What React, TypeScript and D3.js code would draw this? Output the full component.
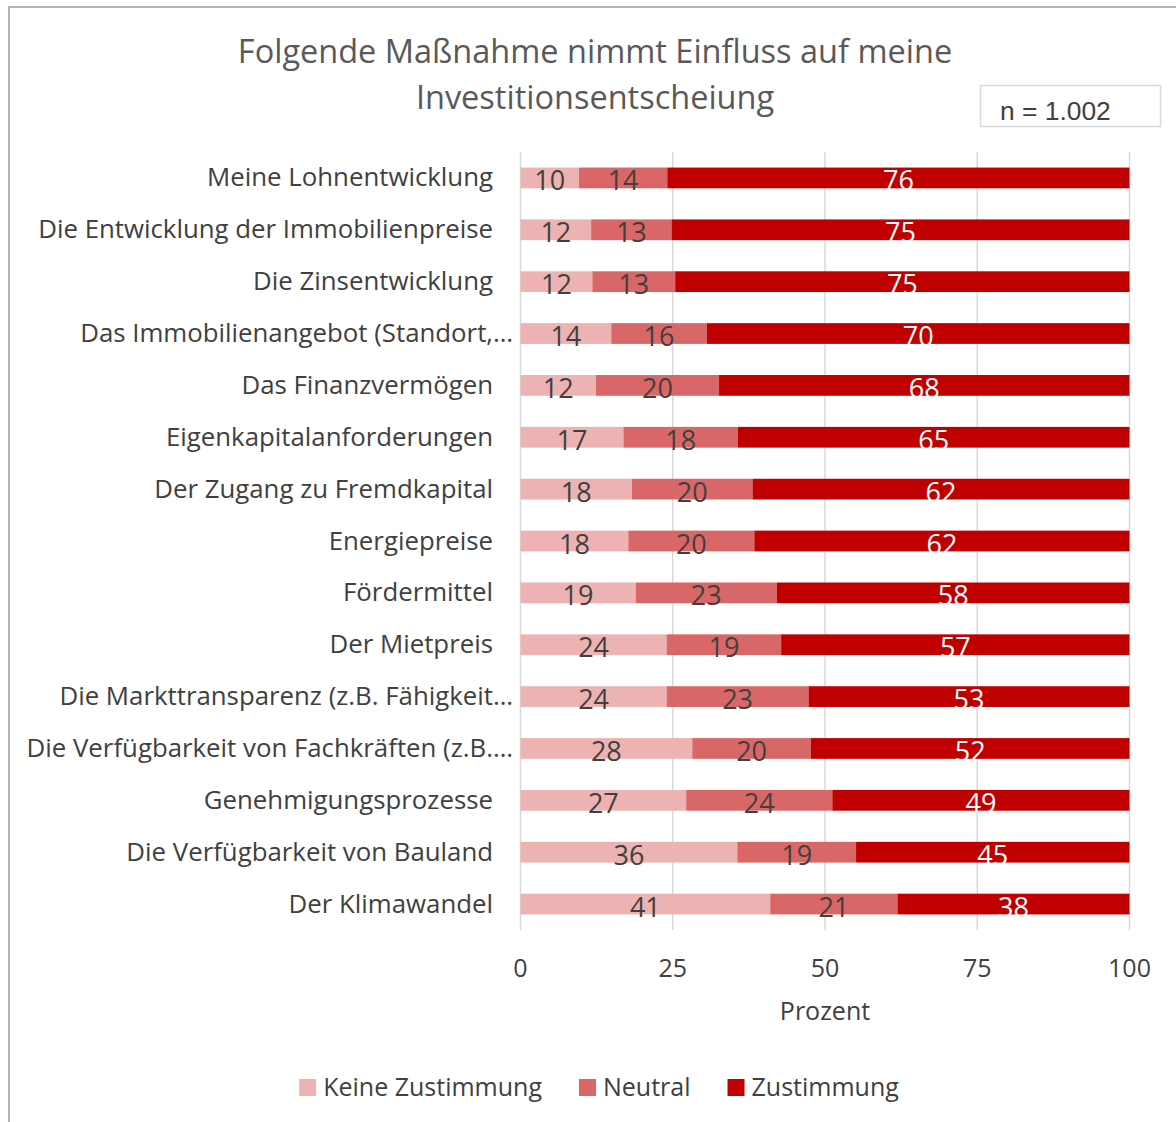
import React, { useEffect, useRef } from 'react';
import * as d3 from 'd3';

// Daten
const categories = [
    "Meine Lohnentwicklung",
    "Die Entwicklung der Immobilienpreise",
    "Die Zinsentwicklung",
    "Das Immobilienangebot (Standort,…",
    "Das Finanzvermögen",
    "Eigenkapitalanforderungen",
    "Der Zugang zu Fremdkapital",
    "Energiepreise",
    "Fördermittel",
    "Der Mietpreis",
    "Die Markttransparenz (z.B. Fähigkeit…",
    "Die Verfügbarkeit von Fachkräften (z.B.…",
    "Genehmigungsprozesse",
    "Die Verfügbarkeit von Bauland",
    "Der Klimawandel"
];

// bar lengths in percent
const keineZustimmung = [9.6, 11.6, 11.8, 14.9, 12.4, 16.9, 18.3, 17.7, 18.9, 24.0, 24.0, 28.2, 27.2, 35.6, 41.0];
const neutral = [14.5, 13.2, 13.6, 15.7, 20.2, 18.8, 19.8, 20.7, 23.2, 18.8, 23.3, 19.5, 24.0, 19.5, 20.9];
const zustimmung = [75.9, 75.2, 74.6, 69.4, 67.4, 64.3, 61.9, 61.6, 57.9, 57.2, 52.7, 52.3, 48.8, 44.9, 38.1];

// data labels as printed on the bars
const keineLabels = [10, 12, 12, 14, 12, 17, 18, 18, 19, 24, 24, 28, 27, 36, 41];
const neutralLabels = [14, 13, 13, 16, 20, 18, 20, 20, 23, 19, 23, 20, 24, 19, 21];
const zustimmungLabels = [76, 75, 75, 70, 68, 65, 62, 62, 58, 57, 53, 52, 49, 45, 38];

const seriesNames = ["Keine Zustimmung", "Neutral", "Zustimmung"];
const seriesColors = ["#edb3b3", "#d96767", "#c00000"];
const labelColors = ["#404040", "#404040", "#ffffff"];
const xTicks = [0, 25, 50, 75, 100];

const titleLines = ["Folgende Maßnahme nimmt Einfluss auf meine", "Investitionsentscheiung"];
const nText = "n = 1.002";

const App = () => {
    const ref = useRef(null);

    useEffect(() => {
        const svg = d3.select(ref.current);
        svg.selectAll("*").remove();

        const width = 1176;
        const height = 1122;
        const marginLeft = 520.5;
        const marginRight = 46.5;
        const plotTop = 152;
        const plotBottom = 930;
        const font = "'Open Sans', sans-serif";

        const rows = categories.map((c, i) => ({
            category: c,
            "Keine Zustimmung": keineZustimmung[i],
            "Neutral": neutral[i],
            "Zustimmung": zustimmung[i],
            labels: [keineLabels[i], neutralLabels[i], zustimmungLabels[i]]
        }));

        const stacked = d3.stack().keys(seriesNames)(rows);

        const x = d3.scaleLinear()
            .domain([0, 100])
            .range([marginLeft, width - marginRight]);

        const y = d3.scaleBand()
            .domain(categories)
            .range([plotTop, plotBottom])
            .paddingInner(0.6)
            .paddingOuter(0.3);

        svg.attr("viewBox", [0, 0, width, height])
            .style("font-family", font);

        // background + chart border
        svg.append("rect")
            .attr("x", 0).attr("y", 0)
            .attr("width", width).attr("height", height)
            .attr("fill", "#ffffff");
        svg.append("rect")
            .attr("x", 9).attr("y", 7)
            .attr("width", width + 20).attr("height", height + 20)
            .attr("fill", "none")
            .attr("stroke", "#b4b4b4")
            .attr("stroke-width", 2);

        // title
        svg.append("text")
            .attr("x", 595)
            .attr("text-anchor", "middle")
            .attr("fill", "#595959")
            .style("font-size", "32.5px")
            .selectAll("tspan")
            .data(titleLines)
            .join("tspan")
            .attr("x", 595)
            .attr("y", (d, i) => 63 + i * 46)
            .text(d => d);

        // n box
        svg.append("rect")
            .attr("x", 980.5).attr("y", 85.5)
            .attr("width", 180).attr("height", 41)
            .attr("fill", "#ffffff")
            .attr("stroke", "#d9d9d9")
            .attr("stroke-width", 1.5);
        svg.append("text")
            .attr("x", 1000)
            .attr("y", 120)
            .attr("fill", "#404040")
            .style("font-family", "'Liberation Sans', Arial, sans-serif")
            .style("font-size", "26.4px")
            .text(nText);

        // vertical grid lines
        svg.append("g")
            .selectAll("line")
            .data(xTicks)
            .join("line")
            .attr("x1", d => x(d))
            .attr("x2", d => x(d))
            .attr("y1", plotTop)
            .attr("y2", plotBottom)
            .attr("stroke", "#d9d9d9")
            .attr("stroke-width", 1.5);

        // bars
        const layer = svg.append("g")
            .selectAll("g")
            .data(stacked)
            .join("g")
            .attr("fill", (d, i) => seriesColors[i]);

        layer.selectAll("rect")
            .data(d => d)
            .join("rect")
            .attr("x", d => x(d[0]))
            .attr("y", d => y(d.data.category))
            .attr("width", d => x(d[1]) - x(d[0]))
            .attr("height", y.bandwidth());

        // data labels
        stacked.forEach((s, si) => {
            svg.append("g")
                .selectAll("text")
                .data(s)
                .join("text")
                .attr("x", d => (x(d[0]) + x(d[1])) / 2)
                .attr("y", d => y(d.data.category) + y.bandwidth() / 2 + 12.5)
                .attr("text-anchor", "middle")
                .attr("fill", labelColors[si])
                .style("font-size", "27px")
                .text(d => d.data.labels[si]);
        });

        // category labels, truncated ones carry the ellipsis past the axis label edge
        const catSize = "25.8px";
        const probe = svg.append("text").style("font-size", catSize).text("…");
        const ellipsisWidth = probe.node().getComputedTextLength();
        probe.remove();

        svg.append("g")
            .selectAll("text")
            .data(categories)
            .join("text")
            .attr("x", d => d.endsWith("…") ? 493 + ellipsisWidth : 493)
            .attr("y", d => y(d) + y.bandwidth() / 2 + 8.5)
            .attr("text-anchor", "end")
            .attr("fill", "#404040")
            .style("font-size", catSize)
            .text(d => d);

        // x axis ticks
        svg.append("g")
            .selectAll("text")
            .data(xTicks)
            .join("text")
            .attr("x", d => x(d))
            .attr("y", 977)
            .attr("text-anchor", "middle")
            .attr("fill", "#404040")
            .style("font-size", "25px")
            .text(d => d);

        svg.append("text")
            .attr("x", x(50))
            .attr("y", 1020)
            .attr("text-anchor", "middle")
            .attr("fill", "#404040")
            .style("font-size", "25px")
            .text("Prozent");

        // legend
        const legend = svg.append("g");
        let lx = 0;
        seriesNames.forEach((name, i) => {
            const item = legend.append("g").attr("transform", `translate(${lx},0)`);
            item.append("rect")
                .attr("x", 0).attr("y", 1079)
                .attr("width", 17).attr("height", 17)
                .attr("fill", seriesColors[i]);
            const t = item.append("text")
                .attr("x", 24)
                .attr("y", 1096)
                .attr("fill", "#404040")
                .style("font-size", "25px")
                .text(name);
            lx += 24 + t.node().getComputedTextLength() + 37;
        });
        const legendWidth = lx - 37;
        legend.attr("transform", `translate(${599 - legendWidth / 2},0)`);
    }, []);

    return (
        <svg ref={ref} width={1176} height={1122}
            style={{ position: 'absolute', left: 0, top: 0 }} />
    );
};

export default App;
